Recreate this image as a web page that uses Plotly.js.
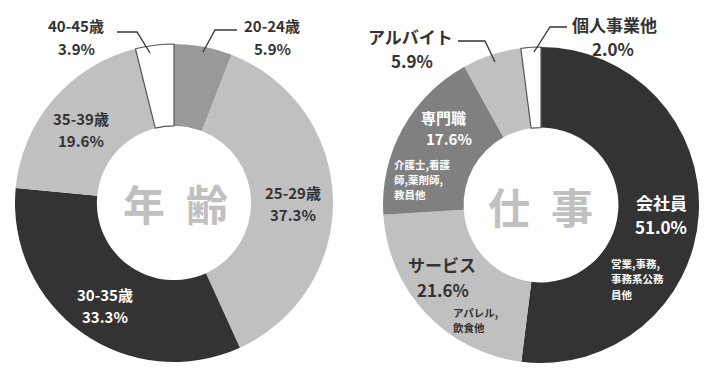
<!DOCTYPE html>
<html>
<head>
<meta charset="utf-8">
<script src="https://cdn.plot.ly/plotly-3.0.1.min.js"></script>
<style>html,body{margin:0;padding:0;background:#fff;}#chart{width:720px;height:370px;}</style>
</head>
<body>
<div id="chart"></div>
<script>
// ---- data ----
const ageLabels = ["20-24歳", "25-29歳", "30-35歳", "35-39歳", "40-45歳"];
const ageValues = [5.9, 37.3, 33.3, 19.6, 3.9];
const jobLabels = ["会社員", "サービス", "専門職", "アルバイト", "個人事業他"];
const jobValues = [51.0, 21.6, 17.6, 5.9, 2.0];
const jobNotes = [["営業,事務,", "事務系公務", "員他"], ["アパレル,", "飲食他"], ["介護士,看護", "師,薬剤師,", "教員他"]];
const centerTitles = ["年\u2002齢", "仕\u2002事"];

// ---- styles ----
const W = 720, H = 370;
const px = x => x / W;
const py = y => 1 - y / H;
const FONT = "Noto Sans CJK JP, Noto Sans, sans-serif";
const ageColors = ["#999999", "#c0c0c0", "#333333", "#c0c0c0", "#ffffff"];
const jobColors = ["#333333", "#c0c0c0", "#808080", "#c0c0c0", "#ffffff"];
const lineW = [0, 0, 0, 0, 1.2];

const traces = [
  {
    type: "pie", labels: ageLabels, values: ageValues, sort: false, direction: "clockwise",
    rotation: 0, hole: 0.485, textinfo: "none", hoverinfo: "skip", showlegend: false,
    marker: {colors: ageColors, line: {color: ["#999999", "#c0c0c0", "#333333", "#c0c0c0", "#555555"], width: lineW}},
    domain: {x: [px(15), px(333)], y: [py(362), py(44)]}
  },
  {
    type: "pie", labels: jobLabels, values: jobValues, sort: false, direction: "clockwise",
    rotation: 0, hole: 0.49, textinfo: "none", hoverinfo: "skip", showlegend: false,
    marker: {colors: jobColors, line: {color: ["#333333", "#c0c0c0", "#808080", "#c0c0c0", "#555555"], width: lineW}},
    domain: {x: [px(383), px(699)], y: [py(363), py(47)]}
  }
];

const pct = v => v.toFixed(1) + "%";
const ann = (text, x, y, size, color, opts) => Object.assign({
  text: text, x: px(x), y: py(y), xref: "paper", yref: "paper", showarrow: false,
  xanchor: "center", yanchor: "middle", borderpad: 0,
  font: {family: FONT, size: size, color: color, weight: "bold"}
}, opts || {});

// label positions (pixels): [xLabel, yLabel, xPct, yPct, color, size]
const agePos = [
  [272, 26, 272, 48, "#333333", 15],
  [293, 192, 293, 214, "#333333", 15],
  [105, 294, 105, 316, "#ffffff", 15],
  [81, 118, 81, 140, "#333333", 15],
  [76, 26, 76, 48, "#333333", 15]
];
const jobPos = [
  [661, 202, 661, 227, "#ffffff", 17],
  [442, 264, 443, 289, "#333333", 17],
  [443, 117, 449, 139, "#ffffff", 15],
  [410, 36, 412, 61, "#333333", 17],
  [614, 24, 613, 49, "#333333", 17]
];
// note positions: [xLeft, yFirstLine, lineStep, color]
const notePos = [[610, 263, 15.5, "#ffffff"], [452, 312, 15.5, "#333333"], [393, 164, 15.5, "#ffffff"]];

const annotations = [];
ageLabels.forEach((l, i) => {
  const p = agePos[i];
  annotations.push(ann(l, p[0], p[1], p[5], p[4]));
  annotations.push(ann(pct(ageValues[i]), p[2], p[3], p[5], p[4]));
});
jobLabels.forEach((l, i) => {
  const p = jobPos[i];
  annotations.push(ann(l, p[0], p[1], p[5], p[4]));
  annotations.push(ann(pct(jobValues[i]), p[2], p[3], p[5], p[4]));
});
notePos.forEach((p, i) => {
  jobNotes[i].forEach((line, k) => {
    annotations.push(ann(line, p[0], p[1] + k * p[2], 10.5, p[3], {xanchor: "left", align: "left"}));
  });
});
annotations.push(ann(centerTitles[0], 175, 203, 42, "#c0c0c0"));
annotations.push(ann(centerTitles[1], 540, 205, 42, "#c0c0c0"));

const leader = pts => ({
  type: "path", xref: "paper", yref: "paper",
  path: "M" + pts.map(p => px(p[0]) + "," + py(p[1])).join(" L"),
  line: {color: "#333333", width: 1.3}
});
const shapes = [
  leader([[117, 32], [137, 32], [150, 53]]),
  leader([[237, 30], [215, 30], [203, 52]]),
  leader([[458, 41], [485, 41], [495, 62]]),
  leader([[567, 27], [550, 27], [534, 52]])
];

Plotly.newPlot("chart", traces, {
  width: W, height: H, margin: {l: 0, r: 0, t: 0, b: 0},
  paper_bgcolor: "#ffffff", plot_bgcolor: "#ffffff",
  annotations: annotations, shapes: shapes
}, {staticPlot: true});
</script>
</body>
</html>
